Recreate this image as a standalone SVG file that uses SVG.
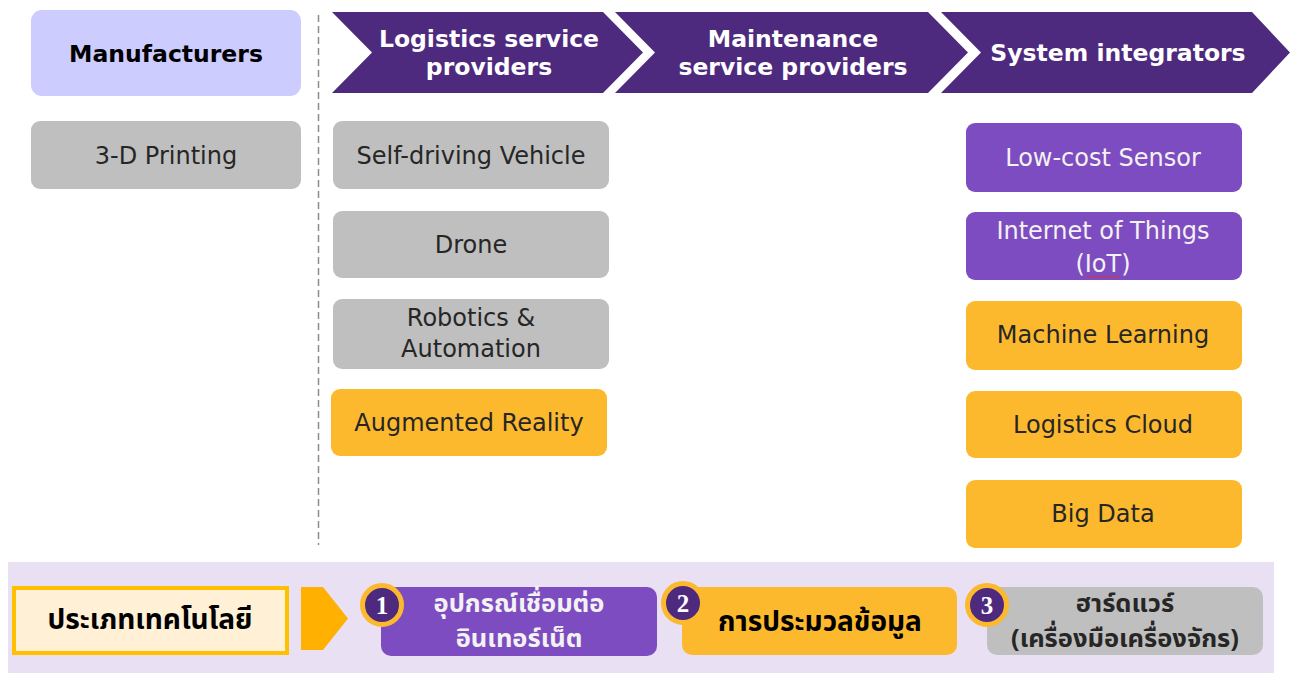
<svg xmlns="http://www.w3.org/2000/svg" width="1290" height="673" viewBox="0 0 1290 673">
  <style>
    .lbl { font-family: "DejaVu Sans", "Noto Sans Thai", Tahoma, sans-serif; font-size: 24px; text-anchor: middle; dominant-baseline: central; }
    .bold { font-weight: bold; }
    .hdr { font-family: "DejaVu Sans", sans-serif; font-size: 23.5px; font-weight: bold; fill: #ffffff; text-anchor: middle; dominant-baseline: central; }
    .thai { font-family: "Noto Sans Thai", "Noto Sans Thai UI", Tahoma, "DejaVu Sans", sans-serif; font-size: 28px; font-weight: bold; text-anchor: middle; dominant-baseline: central; }
    .thai2 { font-size: 25.5px; }
    .grey { fill: #bfbfbf; }
    .purple { fill: #7e4cc1; }
    .yellow { fill: #fdb92e; }
    .dark { fill: #262626; }
    .light { fill: #f2f2f2; }
    .chev { fill: #4e2a7e; }
    .ring { fill: #4e2a7e; stroke: #fdb92e; stroke-width: 5; }
    .num { font-family: "Liberation Serif", serif; font-size: 25px; font-weight: bold; fill: #ffffff; text-anchor: middle; dominant-baseline: central; }
  </style>

  <!-- column separator -->
  <g id="connectors">
    <line x1="318.5" y1="15" x2="318.5" y2="545" stroke="#8c8c8c" stroke-width="1.5" stroke-dasharray="7 4"/>
  </g>

  <!-- column headers -->
  <g id="manufacturers">
    <rect x="31" y="10" width="270" height="86" rx="11" fill="#ccccff"/>
    <text class="lbl bold" x="166" y="54" fill="#000" style="font-size:23.5px">Manufacturers</text>
  </g>
  <g id="logistics-providers">
    <polygon class="chev" points="332,12 603,12 643,52.5 603,93 332,93 372,52.5"/>
    <text class="hdr" x="489" y="39">Logistics service</text>
    <text class="hdr" x="489" y="67">providers</text>
  </g>
  <g id="maintenance-providers">
    <polygon class="chev" points="615,12 928,12 968,52.5 928,93 615,93 655,52.5"/>
    <text class="hdr" x="793" y="39">Maintenance</text>
    <text class="hdr" x="793" y="67">service providers</text>
  </g>
  <g id="system-integrators">
    <polygon class="chev" points="941,12 1252,12 1290,52.5 1252,93 941,93 981,52.5"/>
    <text class="hdr" x="1118" y="53">System integrators</text>
  </g>

  <!-- technology boxes -->
  <g id="printing-3d">
    <rect class="grey" x="31" y="121" width="270" height="68" rx="9"/>
    <text class="lbl dark" x="166" y="156">3-D Printing</text>
  </g>
  <g id="self-driving">
    <rect class="grey" x="333" y="121" width="276" height="68" rx="9"/>
    <text class="lbl dark" x="471" y="156">Self-driving Vehicle</text>
  </g>
  <g id="drone">
    <rect class="grey" x="333" y="211" width="276" height="67" rx="9"/>
    <text class="lbl dark" x="471" y="245">Drone</text>
  </g>
  <g id="robotics">
    <rect class="grey" x="333" y="299" width="276" height="70" rx="9"/>
    <text class="lbl dark" x="471" y="318">Robotics &amp;</text>
    <text class="lbl dark" x="471" y="349">Automation</text>
  </g>
  <g id="augmented-reality">
    <rect class="yellow" x="331" y="389" width="276" height="67" rx="9"/>
    <text class="lbl dark" x="469" y="423">Augmented Reality</text>
  </g>
  <g id="low-cost-sensor">
    <rect class="purple" x="966" y="123" width="276" height="69" rx="9"/>
    <text class="lbl light" x="1103" y="158">Low-cost Sensor</text>
  </g>
  <g id="iot">
    <rect class="purple" x="966" y="212" width="276" height="68" rx="9"/>
    <text class="lbl light" x="1103" y="231">Internet of Things</text>
    <text class="lbl light" x="1103" y="264">(IoT)</text>
    <path d="M1086,278 l3,-2 l3,2 l3,-2 l3,2 l3,-2 l3,2 l3,-2 l3,2 l3,-2 l3,2 l3,-2" fill="none" stroke="#e03030" stroke-width="1"/>
  </g>
  <g id="machine-learning">
    <rect class="yellow" x="966" y="301" width="276" height="69" rx="9"/>
    <text class="lbl dark" x="1103" y="335">Machine Learning</text>
  </g>
  <g id="logistics-cloud">
    <rect class="yellow" x="966" y="391" width="276" height="67" rx="9"/>
    <text class="lbl dark" x="1103" y="425">Logistics Cloud</text>
  </g>
  <g id="big-data">
    <rect class="yellow" x="966" y="480" width="276" height="68" rx="9"/>
    <text class="lbl dark" x="1103" y="514">Big Data</text>
  </g>

  <!-- legend band -->
  <rect x="8" y="562" width="1266" height="111" fill="#e9e0f3"/>
  <g id="tech-type">
    <rect x="14" y="588" width="273" height="65" fill="#fff0d6" stroke="#ffc000" stroke-width="4"/>
    <text class="thai" x="150" y="620" fill="#000">ประเภทเทคโนโลยี</text>
  </g>
  <g id="legend-arrow">
    <polygon points="301,587 323,587 348,618.5 323,650 301,650" fill="#ffb000"/>
  </g>
  <g id="type-iot-devices">
    <rect class="purple" x="381" y="587" width="276" height="69" rx="10"/>
    <text class="thai thai2" x="519" y="604" fill="#f2f2f2">อุปกรณ์เชื่อมต่อ</text>
    <text class="thai thai2" x="519" y="639" fill="#f2f2f2">อินเทอร์เน็ต</text>
    <circle class="ring" cx="382" cy="605" r="19.5"/>
    <text class="num" x="382" y="605">1</text>
  </g>
  <g id="type-processing">
    <rect class="yellow" x="682" y="587" width="275" height="68" rx="10"/>
    <text class="thai" x="820" y="622" fill="#000">การประมวลข้อมูล</text>
    <circle class="ring" cx="683" cy="603" r="19.5"/>
    <text class="num" x="683" y="603">2</text>
  </g>
  <g id="type-hardware">
    <rect class="grey" x="987" y="587" width="276" height="68" rx="10"/>
    <text class="thai thai2" x="1125" y="604" fill="#262626">ฮาร์ดแวร์</text>
    <text class="thai thai2" x="1125" y="639" fill="#262626">(เครื่องมือเครื่องจักร)</text>
    <circle class="ring" cx="987" cy="605" r="19.5"/>
    <text class="num" x="987" y="605">3</text>
  </g>
</svg>
